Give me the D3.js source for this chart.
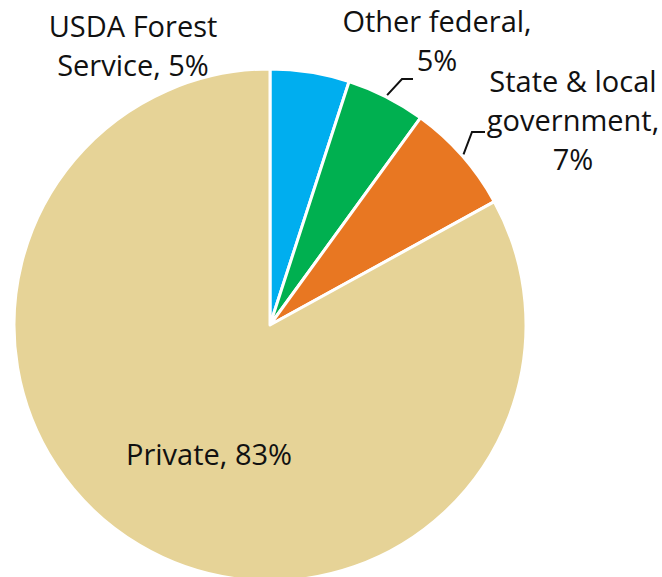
<!DOCTYPE html>
<html>
<head>
<meta charset="utf-8">
<script src="https://cdn.jsdelivr.net/npm/d3@7"></script>
<style>
  body { margin: 0; background: #fff; }
  text { font-family: "Open Sans", sans-serif; font-size: 29px; fill: #111; }
</style>
</head>
<body>
<div id="chart"></div>
<script>
// Land ownership shares, clockwise from 12 o'clock
const owners = ['USDA Forest Service', 'Other federal', 'State & local government', 'Private'];
const shares = [5, 5, 7, 83];
const colors = ['#00aeef', '#00b050', '#e87722', '#e6d397'];
// label lines as shown in the picture
const labelLines = [
  ['USDA Forest', 'Service, 5%'],
  ['Other federal,', '5%'],
  ['State & local', 'government,', '7%'],
  ['Private, 83%']
];

const width = 662, height = 577;
const cx = 270, cy = 325, radius = 256;

const svg = d3.select('#chart')
  .append('svg')
  .attr('width', width)
  .attr('height', height);

const g = svg.append('g').attr('transform', `translate(${cx},${cy})`);

const pie = d3.pie().sort(null).value((d) => d);
const arcs = pie(shares);
const arc = d3.arc().innerRadius(0).outerRadius(radius);

g.selectAll('path.slice')
  .data(arcs)
  .join('path')
  .attr('class', 'slice')
  .attr('d', arc)
  .attr('fill', (d, i) => colors[i])
  .attr('stroke', '#fff')
  .attr('stroke-width', 3)
  .attr('stroke-linejoin', 'round');

// label anchors (relative to pie centre) and leader lines
const labelPos = [
  { x: -137, y: -288 },
  { x: 167, y: -293 },
  { x: 303, y: -233 },
  { x: -61, y: 140 }
];
const lineH = 39;

arcs.forEach((d, i) => {
  const t = g.append('text')
    .attr('text-anchor', 'middle')
    .attr('x', labelPos[i].x)
    .attr('y', labelPos[i].y);
  labelLines[i].forEach((s, j) => {
    t.append('tspan')
      .attr('x', labelPos[i].x)
      .attr('dy', j === 0 ? 0 : lineH)
      .text(s);
  });
});

// leader lines for the two small slices on the right
const leaders = [
  { slice: 1, elbow: [132, -246], end: [143, -246] },
  { slice: 2, elbow: [202, -193], end: [215, -193] }
];
leaders.forEach((l) => {
  const a = arcs[l.slice];
  const mid = (a.startAngle + a.endAngle) / 2;
  const r0 = radius + 2;
  const p0 = [Math.sin(mid) * r0, -Math.cos(mid) * r0];
  g.append('path')
    .attr('d', d3.line()([p0, l.elbow, l.end]))
    .attr('fill', 'none')
    .attr('stroke', '#111')
    .attr('stroke-width', 2);
});
</script>
</body>
</html>
